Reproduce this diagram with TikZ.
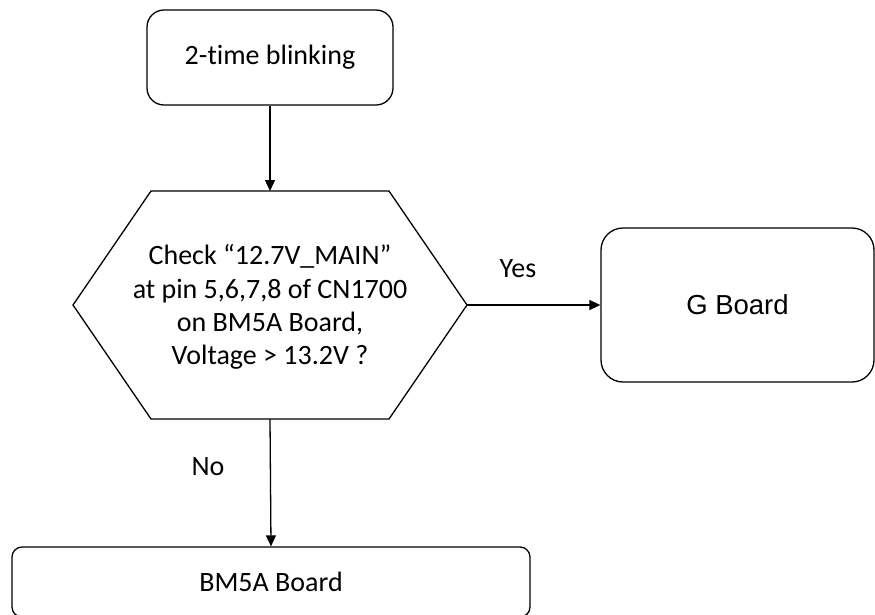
\documentclass[tikz,border=0pt]{standalone}
\usepackage{fontspec}
\setmainfont{Carlito}[Ligatures=NoCommon]
\newfontfamily\arialf{Liberation Sans}
\usetikzlibrary{arrows.meta}
\begin{document}
\begin{tikzpicture}[x=1pt,y=-1pt,
  line width=1.3pt,
  box/.style={draw,rounded corners=#1,inner sep=0pt},
  conn/.style={-{Triangle[length=11pt,width=10pt]}},
  every node/.style={font=\fontsize{28}{33.3}\selectfont}]
\clip (0,0) rectangle (875,614);
\fill[white] (0,0) rectangle (875,614);
% top box
\node[box=17pt,minimum width=246pt,minimum height=95pt] (start) at (270,57.5) {2-time blinking};
% hexagon
\coordinate (hexT) at (270,191);
\coordinate (hexB) at (270,419);
\coordinate (hexL) at (73,305);
\coordinate (hexR) at (467,305);
\draw (hexL) -- (151,191) -- (389,191) -- (hexR) -- (389,419) -- (151,419) -- cycle;
\node[align=center] (check) at (270,307) {Check “12.7V\_MAIN”\\at pin 5,6,7,8 of CN1700\\on BM5A Board,\\Voltage > 13.2V ?};
% G board
\node[box=22pt,minimum width=273pt,minimum height=154pt,font=\arialf\fontsize{27.5}{30}\selectfont] (gb) at (737.5,305) {G Board};
% BM5A board
\node[box=10pt,minimum width=518pt,minimum height=70pt] (bm) at (271,582) {BM5A Board};
% connectors
\draw[conn] (start.south) -- (hexT);
\draw[conn] (hexR) -- (gb.west);
\draw[conn] (hexB) -- (bm.north);
% labels
\node (yes) at (518,269) {Yes};
\node (no) at (208,467) {No};
\end{tikzpicture}
\end{document}
